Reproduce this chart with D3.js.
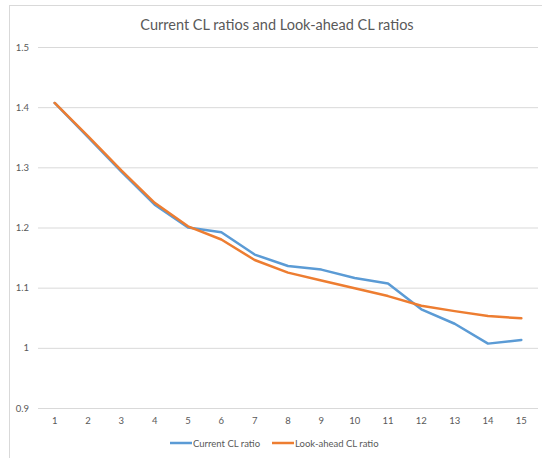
<!DOCTYPE html>
<html>
<head>
<meta charset="utf-8">
<script src="https://cdn.jsdelivr.net/npm/d3@7/dist/d3.min.js"></script>
<style>
  html, body { margin: 0; padding: 0; background: #ffffff; }
  svg { display: block; font-family: Lato, "Open Sans", sans-serif; }
</style>
</head>
<body>
<svg id="chart" width="542" height="458"></svg>
<script>
// Period index on the x axis
const periods = [1, 2, 3, 4, 5, 6, 7, 8, 9, 10, 11, 12, 13, 14, 15];

// Ratio series
const currentCL = [1.407, 1.350, 1.293, 1.238, 1.200, 1.192, 1.155, 1.136, 1.130, 1.116, 1.107, 1.064, 1.040, 1.007, 1.013];
const lookAheadCL = [1.407, 1.352, 1.295, 1.241, 1.202, 1.180, 1.146, 1.125, 1.112, 1.099, 1.086, 1.070, 1.061, 1.053, 1.049];

// Y axis ticks
const yTicks = [0.9, 1, 1.1, 1.2, 1.3, 1.4, 1.5];

const seriesNames = ["Current CL ratio", "Look-ahead CL ratio"];
const seriesColors = ["#5b9bd5", "#ed7d31"];

const svg = d3.select("#chart");
const W = 542, H = 458;

// Chart frame
svg.append("rect")
  .attr("x", 9.5).attr("y", 5.5)
  .attr("width", W + 10).attr("height", H + 10)
  .attr("fill", "#ffffff").attr("stroke", "#d9d9d9").attr("stroke-width", 1);

const plot = { left: 38, right: 538, top: 47, bottom: 408 };

const x = d3.scaleBand().domain(periods).range([plot.left, plot.right]);
const y = d3.scaleLinear().domain([0.9, 1.5]).range([plot.bottom, plot.top]);

// Title
svg.append("text")
  .attr("x", 277).attr("y", 30)
  .attr("text-anchor", "middle")
  .attr("fill", "#595959")
  .attr("font-size", 14.5)
  .text("Current CL ratios and Look-ahead CL ratios");

// Horizontal gridlines and y labels
const yAxis = d3.axisLeft(y).tickValues(yTicks)
  .tickSize(-(plot.right - plot.left))
  .tickPadding(9)
  .tickFormat(d3.format("~g"));
const gy = svg.append("g").attr("transform", `translate(${plot.left},0)`).call(yAxis);
gy.select(".domain").remove();
gy.selectAll(".tick line").attr("stroke", "#d9d9d9").attr("stroke-width", 1);
gy.selectAll(".tick text").attr("fill", "#595959").attr("font-size", 9.5).attr("font-family", "Lato, sans-serif");

// X labels
const xAxis = d3.axisBottom(x).tickSize(0).tickPadding(9);
const gx = svg.append("g").attr("transform", `translate(0,${plot.bottom})`).call(xAxis);
gx.select(".domain").remove();
gx.selectAll(".tick text").attr("fill", "#595959").attr("font-size", 9.5).attr("font-family", "Lato, sans-serif");

// Lines
const cx = d => x(d) + x.bandwidth() / 2;
const line = d3.line().x((d, i) => cx(periods[i])).y(d => y(d));

[currentCL, lookAheadCL].forEach((vals, k) => {
  svg.append("path")
    .datum(vals)
    .attr("fill", "none")
    .attr("stroke", seriesColors[k])
    .attr("stroke-width", 2.5)
    .attr("stroke-linejoin", "round")
    .attr("stroke-linecap", "round")
    .attr("d", line);
});

// Legend
const legendX = [170, 272];
const legend = svg.append("g");
seriesNames.forEach((name, k) => {
  legend.append("line")
    .attr("x1", legendX[k]).attr("x2", legendX[k] + 22)
    .attr("y1", 443).attr("y2", 443)
    .attr("stroke", seriesColors[k]).attr("stroke-width", 2.5);
  legend.append("text")
    .attr("x", legendX[k] + 23).attr("y", 446.5)
    .attr("fill", "#595959")
    .attr("font-size", 9.5)
    .text(name);
});
</script>
</body>
</html>
